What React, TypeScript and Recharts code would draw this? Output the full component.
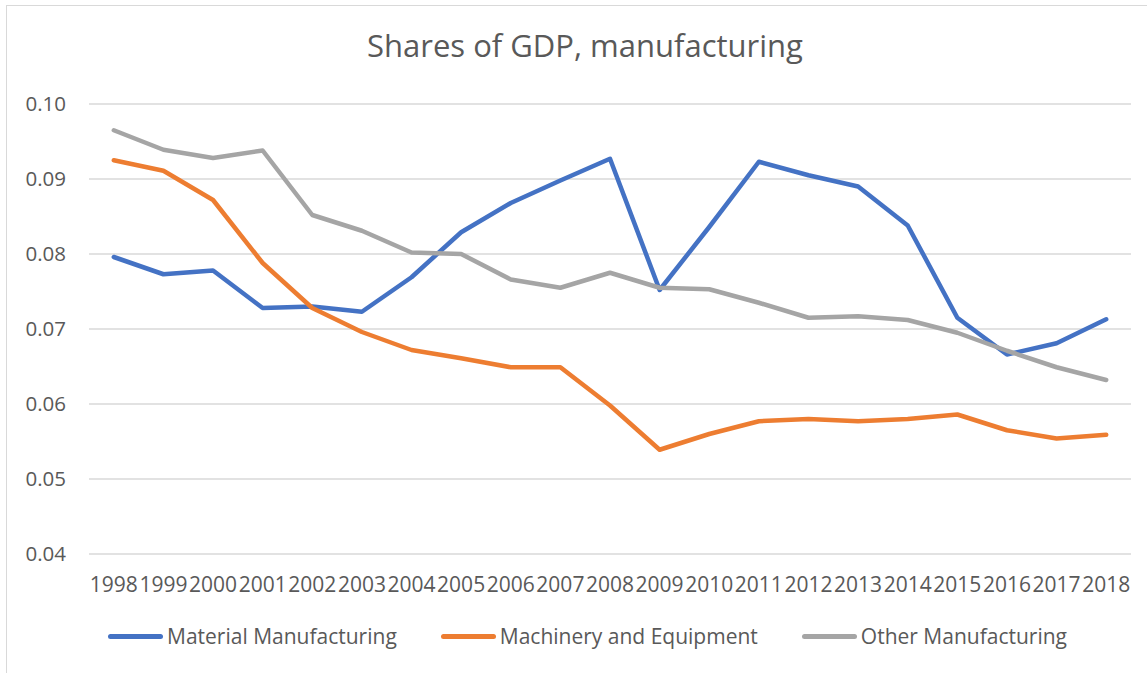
import React from "react";
import {
    LineChart,
    Line,
    XAxis,
    YAxis,
    CartesianGrid,
} from "recharts";

const years = [
    "1998", "1999", "2000", "2001", "2002", "2003", "2004", "2005", "2006", "2007", "2008",
    "2009", "2010", "2011", "2012", "2013", "2014", "2015", "2016", "2017", "2018",
];

const materialManufacturing = [
    0.0796, 0.0773, 0.0778, 0.0728, 0.073, 0.0723, 0.0769, 0.0829, 0.0868, 0.0898, 0.0927,
    0.0752, 0.0836, 0.0923, 0.0905, 0.089, 0.0838, 0.0715, 0.0666, 0.0681, 0.0713,
];

const machineryEquipment = [
    0.0925, 0.0911, 0.0872, 0.0788, 0.0728, 0.0696, 0.0672, 0.0661, 0.0649, 0.0649, 0.0598,
    0.0539, 0.056, 0.0577, 0.058, 0.0577, 0.058, 0.0586, 0.0565, 0.0554, 0.0559,
];

const otherManufacturing = [
    0.0965, 0.0939, 0.0928, 0.0938, 0.0852, 0.0831, 0.0802, 0.08, 0.0766, 0.0755, 0.0775,
    0.0755, 0.0753, 0.0735, 0.0715, 0.0717, 0.0712, 0.0695, 0.0671, 0.0649, 0.0632,
];

const yTicks = [0.04, 0.05, 0.06, 0.07, 0.08, 0.09, 0.1];

const seriesInfo = [
    { key: "material", name: "Material Manufacturing", color: "#4472C4" },
    { key: "machinery", name: "Machinery and Equipment", color: "#ED7D31" },
    { key: "other", name: "Other Manufacturing", color: "#A5A5A5" },
];

const data = years.map((year, i) => ({
    year,
    material: materialManufacturing[i],
    machinery: machineryEquipment[i],
    other: otherManufacturing[i],
}));

const FONT = "'Open Sans', sans-serif";
const TEXT_COLOR = "#595959";

// legend drawn by hand so it doesn't eat into the plot height
const ExcelLegend = () => (
    <div
        style={{
            position: "absolute",
            left: 108,
            top: 621,
            display: "flex",
            alignItems: "center",
            gap: 44,
            fontFamily: FONT,
            fontSize: 21,
            color: TEXT_COLOR,
            lineHeight: "30px",
        }}
    >
        {seriesInfo.map((s) => (
            <div key={s.key} style={{ display: "flex", alignItems: "center" }}>
                <div style={{ width: 55, height: 5, borderRadius: 3, background: s.color, marginRight: 4 }} />
                <span>{s.name}</span>
            </div>
        ))}
    </div>
);

export default function App() {
    return (
        <div style={{ position: "absolute", left: 0, top: 0, width: 1147, height: 673, background: "#fff", overflow: "hidden" }}>
            <div
                style={{
                    position: "absolute",
                    left: 6,
                    top: 5,
                    width: 1300,
                    height: 800,
                    borderTop: "1px solid #D9D9D9",
                    borderLeft: "1px solid #D9D9D9",
                }}
            />
            <div
                style={{
                    position: "absolute",
                    left: 285,
                    width: 600,
                    top: 24,
                    textAlign: "center",
                    fontFamily: FONT,
                    fontSize: 31,
                    color: TEXT_COLOR,
                }}
            >
                Shares of GDP, manufacturing
            </div>
            <LineChart
                width={1147}
                height={673}
                data={data}
                margin={{ top: 104, right: 16, left: 0, bottom: 89 }}
                style={{ position: "absolute", left: 0, top: 0 }}
            >
                <CartesianGrid vertical={false} stroke="#D9D9D9" strokeWidth={1.3} />
                <XAxis
                    dataKey="year"
                    height={30}
                    interval={0}
                    axisLine={false}
                    tickLine={false}
                    tickSize={0}
                    tickMargin={23}
                    padding={{ left: 24.8, right: 24.8 }}
                    tick={{ fontFamily: FONT, fontSize: 21, fill: TEXT_COLOR }}
                />
                <YAxis
                    width={89}
                    domain={[0.04, 0.1]}
                    ticks={yTicks}
                    allowDataOverflow
                    axisLine={false}
                    tickLine={false}
                    tickSize={0}
                    tickMargin={23}
                    tickFormatter={(v) => Number(v).toFixed(2)}
                    tick={{ fontFamily: FONT, fontSize: 20.5, fill: TEXT_COLOR }}
                />
                {seriesInfo.map((s) => (
                    <Line
                        key={s.key}
                        type="linear"
                        dataKey={s.key}
                        name={s.name}
                        stroke={s.color}
                        strokeWidth={4.5}
                        strokeLinecap="round"
                        strokeLinejoin="round"
                        dot={false}
                        activeDot={false}
                        isAnimationActive={false}
                    />
                ))}
            </LineChart>
            <ExcelLegend />
        </div>
    );
}
